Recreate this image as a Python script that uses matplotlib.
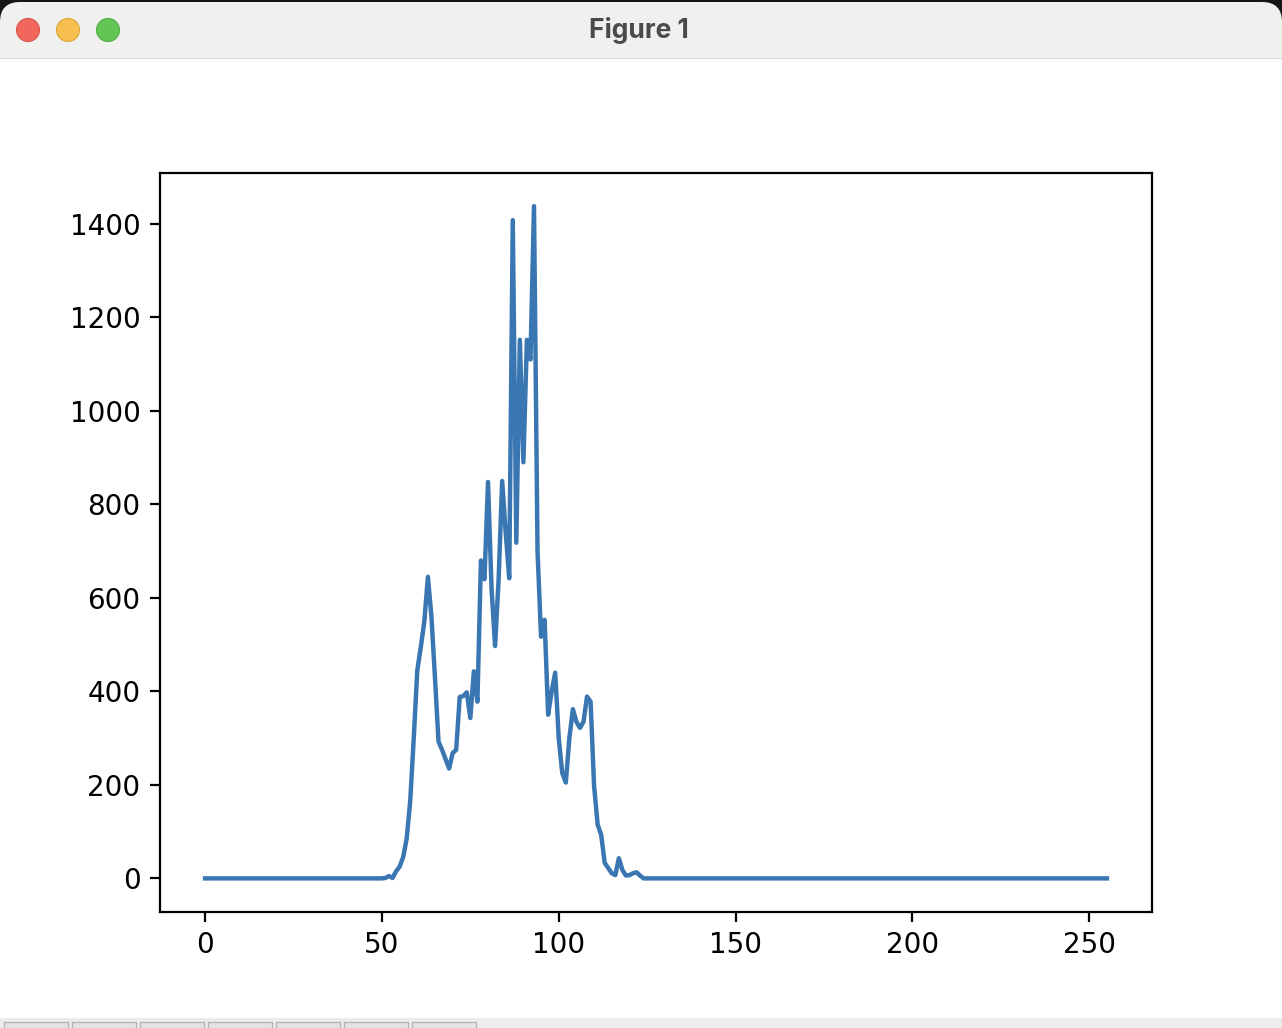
import numpy as np
import matplotlib
matplotlib.use('Agg')
import matplotlib.pyplot as plt
from matplotlib.patches import Rectangle, Circle, FancyBboxPatch

# histogram counts, only bins 50-124 are non zero
bins_start = 50
counts_mid = [0, 1, 5, 1, 15, 25, 45, 85, 165, 300,
              445, 495, 550, 645, 560, 430, 293, 275, 255, 235,
              268, 275, 388, 390, 398, 343, 443, 378, 680, 640,
              848, 620, 497, 640, 850, 740, 642, 1408, 718, 1152,
              890, 1152, 1110, 1438, 700, 517, 553, 350, 400, 440,
              300, 225, 205, 300, 362, 335, 322, 335, 389, 378,
              197, 115, 93, 33, 22, 11, 7, 43, 18, 6,
              7, 11, 13, 6, 0]

hist = np.zeros(256)
hist[bins_start:bins_start + len(counts_mid)] = counts_mid

WIDTH, HEIGHT = 1282, 1028
DPI = 200
LINE_COLOR = '#3a76b1'


def draw_window(fig):
    # mac window frame around the figure, in screenshot pixels
    ax = fig.add_axes([0, 0, 1, 1], zorder=-1)
    ax.set_xlim(0, WIDTH)
    ax.set_ylim(HEIGHT, 0)
    ax.axis('off')

    ax.add_patch(Rectangle((0, 0), WIDTH, 30, color='#161616', lw=0))
    ax.add_patch(FancyBboxPatch((0, 2), WIDTH, 80, boxstyle='round,pad=0,rounding_size=20',
                                fc='#f0f0ee', ec='none', mutation_aspect=1))
    ax.add_patch(Rectangle((0, 58), WIDTH, 960, color='white', lw=0))
    ax.add_patch(Rectangle((0, 58), WIDTH, 1, color='#d9d9d9', lw=0))

    for x, face, edge in [(28, '#f1675e', '#d9534b'), (68, '#f6bf4f', '#dca53c'), (108, '#62c654', '#52ad45')]:
        ax.add_patch(Circle((x, 30), 11.5, fc=face, ec=edge, lw=0.4))
    ax.text(639, 31, 'Figure 1', ha='center', va='center', fontsize=9.5,
            fontweight='bold', family='Inter', color='#4a4a4a')

    ax.add_patch(Rectangle((0, 1018), WIDTH, 10, color='#ececea', lw=0))
    for x in range(4, 480, 68):
        ax.add_patch(Rectangle((x, 1022), 63.5, 10, fc='#e3e3e3', ec='#b2b2b2', lw=0.45))


fig = plt.figure(figsize=(WIDTH / DPI, HEIGHT / DPI), dpi=DPI)
draw_window(fig)

ax = fig.add_axes([160 / WIDTH, (HEIGHT - 912) / HEIGHT, 992 / WIDTH, 739.5 / HEIGHT])
ax.plot(hist, color=LINE_COLOR, linewidth=1.6)

fig.savefig('out.png', dpi=DPI)
